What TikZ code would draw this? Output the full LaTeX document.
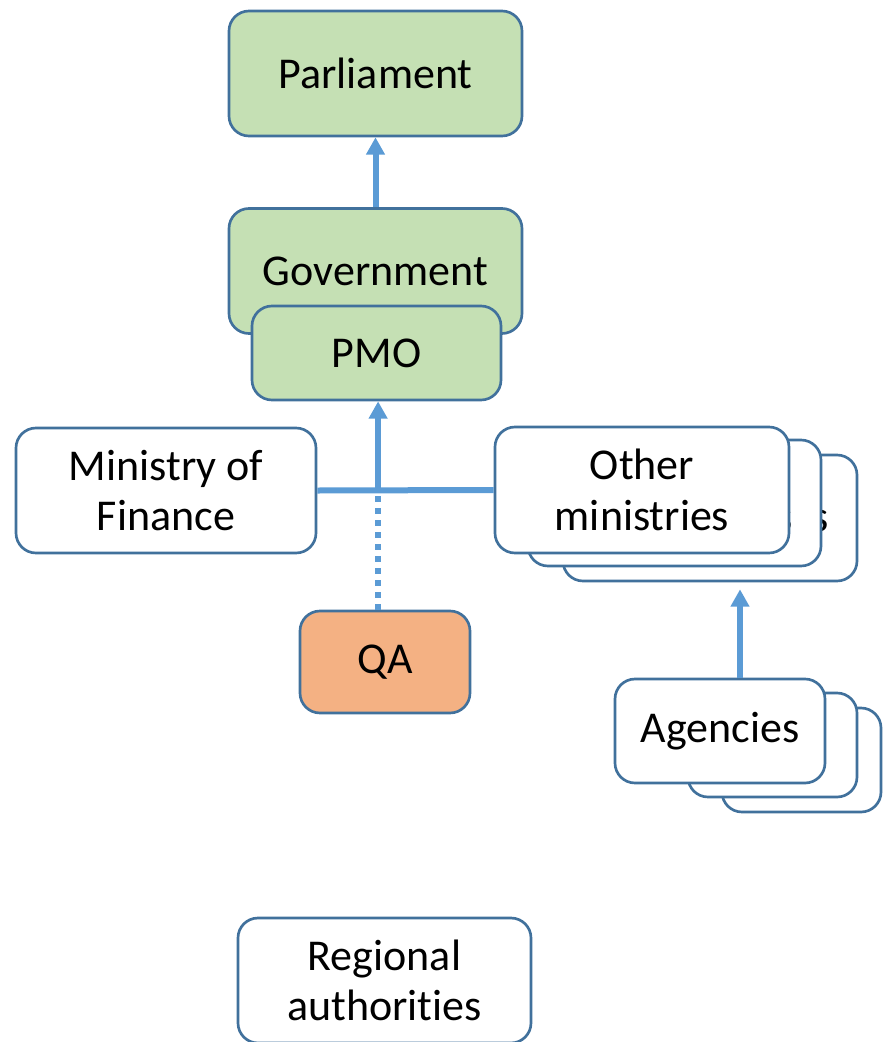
\documentclass[tikz,border=0pt]{standalone}
\usepackage{fontspec}
\setmainfont{Carlito}[Ligatures=NoCommon]
\usetikzlibrary{arrows.meta,positioning}
\definecolor{boxline}{HTML}{41719C}
\definecolor{linkblue}{HTML}{5B9BD5}
\definecolor{govgreen}{HTML}{C5E0B4}
\definecolor{qaorange}{HTML}{F4B183}

\begin{document}
\begin{tikzpicture}[x=0.75pt,y=-0.75pt,
  >={Triangle[width=13.5pt,length=13pt]},
  unit/.style={draw=boxline,line width=2pt,rounded corners=15pt,fill=white,
    align=center,inner sep=0pt,font=\fontsize{33}{38}\selectfont},
  govbox/.style={fill=govgreen},
  label/.style={inner sep=0pt,font=\fontsize{33}{38}\selectfont},
  link/.style={linkblue,line width=4.5pt}]
  \useasboundingbox (0,0) rectangle (882,1042);

  % Parliament and government
  \node[unit,govbox,minimum width=219.75pt,minimum height=93.75pt] (parl) at (375.5,73.5) {Parliament};
  \node[unit,govbox,minimum width=219.75pt,minimum height=93.75pt] (gov) at (375.5,271) {Government};
  \node[unit,govbox,minimum width=186.75pt,minimum height=70.5pt] (pmo) at (376.5,353) {PMO};

  % Ministries
  \node[unit,minimum width=225pt,minimum height=93.75pt] (mof) at (166,490.5) {Ministry of\\Finance};
  \node[unit,minimum width=220.5pt,minimum height=94.5pt] (oth3) at (710,518) {};
  \node[label,anchor=east] (oth3txt) at (829,517) {ministries};
  \node[unit,minimum width=219.75pt,minimum height=94.5pt] (oth2) at (674.5,503) {};
  \node[label,anchor=east] (oth2txt) at (793,517) {ministries};
  \node[unit,minimum width=220.5pt,minimum height=94.5pt] (oth1) at (642,490) {Other\\ministries};

  % QA
  \node[unit,fill=qaorange,minimum width=127.5pt,minimum height=76.5pt] (qa) at (385,662) {QA};

  % Agencies
  \node[unit,minimum width=119.25pt,minimum height=78pt] (ag3) at (801.5,760) {};
  \node[unit,minimum width=126.75pt,minimum height=78pt] (ag2) at (772.5,745) {};
  \node[unit,minimum width=157.5pt,minimum height=78pt] (ag1) at (720,731) {Agencies};

  % Regional level
  \node[unit,minimum width=219.75pt,minimum height=93.75pt] (reg) at (384.5,980.5) {Regional\\authorities};

  % Links
  \coordinate (hub) at ([xshift=1.2pt]pmo.south |- mof.east);
  \draw[link,->] (gov) -- (parl);
  \draw[link] (mof.east) -- (oth1.west);
  \draw[link,->] ([yshift=-2pt]hub) -- (hub |- pmo.south);
  \draw[link,dash pattern=on 4pt off 5pt] (hub |- qa.north) -- (hub);
  \draw[link,->,shorten >=5.25pt] ([xshift=15pt]ag1.north) -- ([xshift=15pt]ag1.north |- oth3.south);
\end{tikzpicture}
\end{document}
